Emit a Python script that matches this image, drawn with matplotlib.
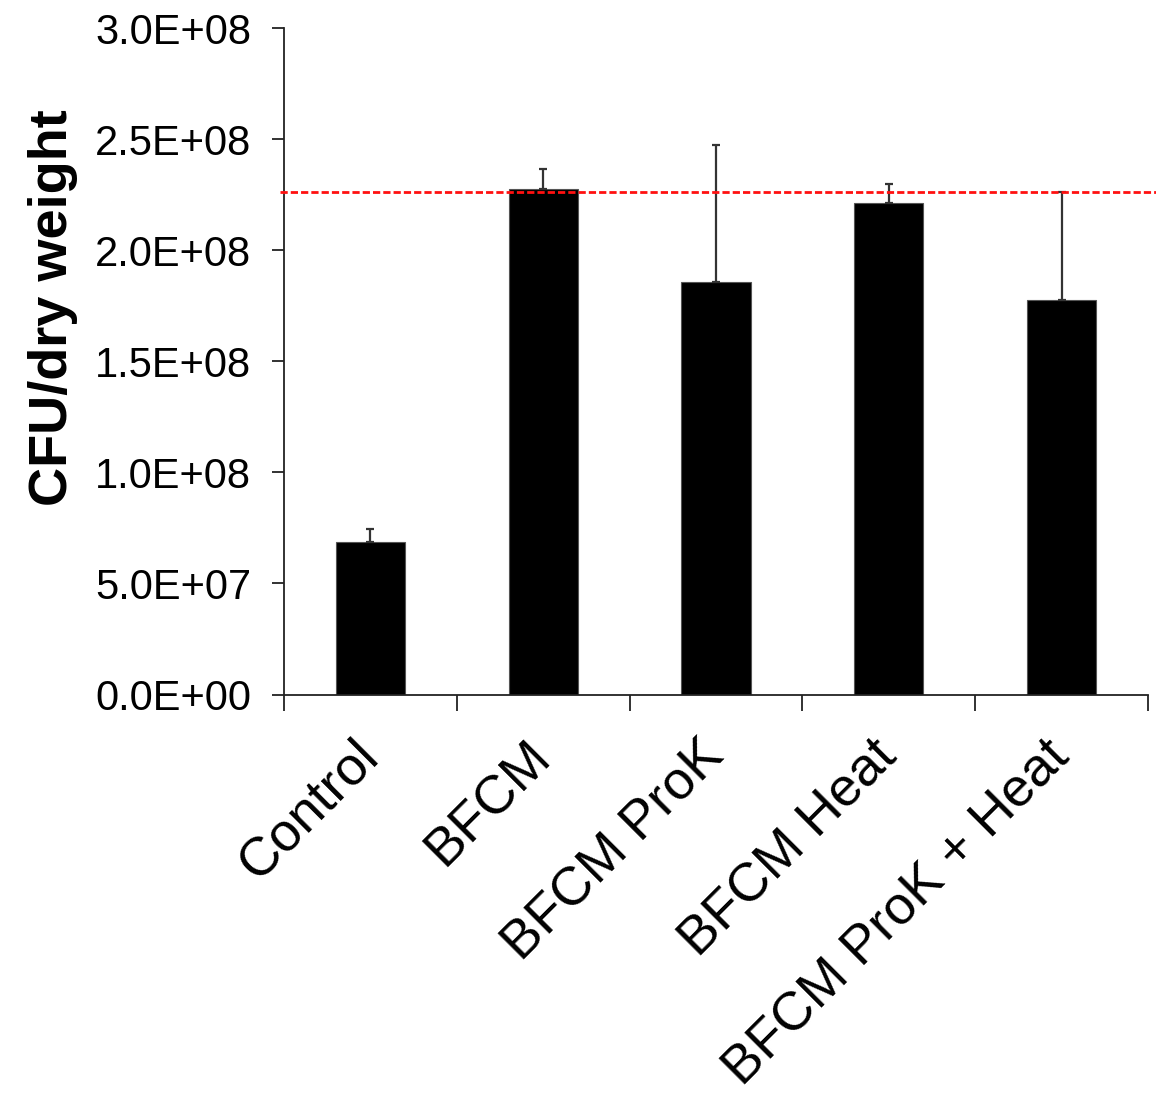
import matplotlib
matplotlib.use("Agg")
import matplotlib.pyplot as plt
import numpy as np

# values
categories = ["Control", "BFCM", "BFCM ProK", "BFCM Heat", "BFCM ProK + Heat"]
cfu_mean = [6.85e7, 2.275e8, 1.858e8, 2.211e8, 1.774e8]
cfu_err = [0.59e7, 0.089e8, 0.615e8, 0.087e8, 0.486e8]
reference_level = 2.264e8
yticks = [0.0, 5.0e7, 1.0e8, 1.5e8, 2.0e8, 2.5e8, 3.0e8]

plt.rcParams["font.family"] = ["Liberation Sans", "DejaVu Sans"]

fig = plt.figure(figsize=(11.56, 10.93), dpi=100)
W, H = 1156, 1093
ax = fig.add_axes([284 / W, (H - 694.5) / H, (1148 - 284) / W, (694.5 - 28) / H])

x = np.arange(len(categories)) + 0.5
ax.bar(x, cfu_mean, width=0.4, color="black", edgecolor="#555555", linewidth=0.8,
       zorder=2)
ax.errorbar(x, cfu_mean, yerr=[np.zeros(len(cfu_err)), cfu_err], fmt="none",
            ecolor="#333333", elinewidth=1.6, capsize=3, capthick=1.6, zorder=3)

ax.axhline(reference_level, xmin=-0.005, xmax=1.01, color="#ff1010",
           linestyle=(0, (2.6, 1.1)), linewidth=2.0, clip_on=False, zorder=4)

ax.set_xlim(0, len(categories))
ax.set_ylim(0, 3.0e8)
ax.set_yticks(yticks)
ax.set_yticklabels([f"{v:.1E}" for v in yticks], fontsize=30)

ax.set_xticks(np.arange(len(categories) + 1))
ax.set_xticklabels([])
ax.set_xticks(x, minor=True)
ax.set_xticklabels(categories, minor=True, rotation=45, ha="right", va="center",
                   rotation_mode="anchor", fontsize=39)
ax.tick_params(axis="x", which="major", direction="out", length=11.5, width=1.3,
               color="#222222")
ax.tick_params(axis="x", which="minor", length=0, pad=39)
ax.tick_params(axis="y", direction="out", length=8.5, width=1.3, color="#222222", pad=15)

for side in ["top", "right"]:
    ax.spines[side].set_visible(False)
for side in ["left", "bottom"]:
    ax.spines[side].set_linewidth(1.3)
    ax.spines[side].set_color("#222222")

ax.set_ylabel("CFU/dry weight", fontsize=39, fontweight="bold")
ax.yaxis.set_label_coords(-0.238, 0.581)

fig.savefig("out.png", dpi=100)
